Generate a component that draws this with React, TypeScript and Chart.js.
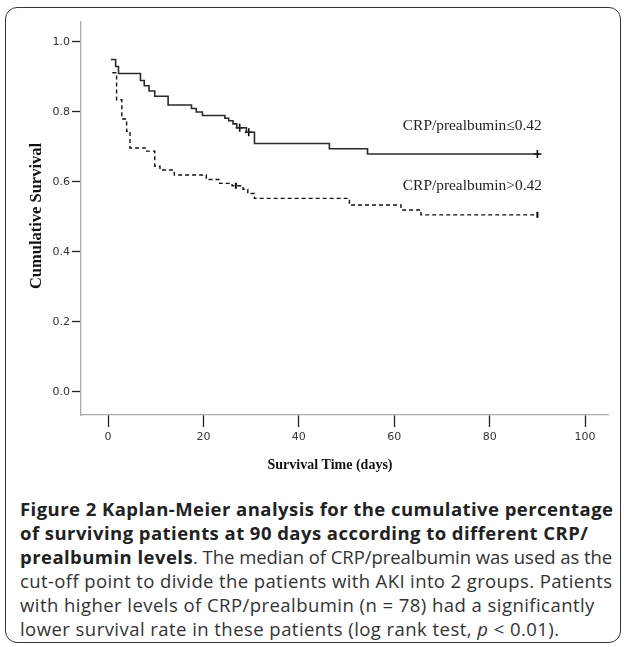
import React, { useEffect, useRef } from 'react';
import { Chart, registerables } from 'chart.js';

Chart.register(...registerables);

// Kaplan-Meier steps: group CRP/prealbumin ≤ 0.42 (solid)
const LOW_TIMES = [0.6, 1.6, 2.2, 6.8, 7.6, 8.6, 9.8, 12.6, 17.5, 18.5, 19.8, 24.5, 25.3, 26.2, 27.0, 29.0, 30.7, 46.4, 54.4, 90];
const LOW_SURV = [0.95, 0.93, 0.91, 0.89, 0.875, 0.86, 0.845, 0.82, 0.81, 0.8, 0.79, 0.782, 0.775, 0.766, 0.755, 0.742, 0.71, 0.695, 0.68, 0.68];

// group CRP/prealbumin > 0.42 (dashed)
const HIGH_TIMES = [0.9, 1.8, 2.9, 3.9, 4.6, 7.8, 9.8, 10.9, 13.9, 20.6, 23.4, 26.0, 28.3, 29.3, 30.7, 50.6, 61.4, 65.6, 90];
const HIGH_SURV = [0.912, 0.835, 0.78, 0.745, 0.697, 0.688, 0.645, 0.634, 0.62, 0.607, 0.596, 0.589, 0.579, 0.567, 0.553, 0.534, 0.52, 0.506, 0.506];

// censored observations
const LOW_CENSOR_TIMES = [27.6, 29.5, 90];
const LOW_CENSOR_SURV = [0.755, 0.742, 0.68];
const HIGH_CENSOR_TIMES = [26.8, 90];
const HIGH_CENSOR_SURV = [0.589, 0.506];

const X_TICKS = [0, 20, 40, 60, 80, 100];
const Y_TICKS = [0, 0.2, 0.4, 0.6, 0.8, 1.0];

const SERIES_LABELS = ['CRP/prealbumin≤0.42', 'CRP/prealbumin>0.42'];
const X_TITLE = 'Survival Time (days)';
const Y_TITLE = 'Cumulative Survival';

const toPoints = (xs: number[], ys: number[]) => xs.map((x, i) => ({ x, y: ys[i] }));

const annotationPlugin = {
  id: 'kmAnnotations',
  afterDraw(chart: any) {
    const { ctx, scales } = chart;
    const xs = scales.x;
    const ys = scales.y;
    ctx.save();
    ctx.fillStyle = '#111';
    // axis titles
    ctx.font = 'bold 14px "Liberation Serif", "Times New Roman", serif';
    ctx.textAlign = 'center';
    ctx.textBaseline = 'middle';
    ctx.fillText(X_TITLE, 330, 465);
    ctx.save();
    ctx.translate(37, 216);
    ctx.rotate(-Math.PI / 2);
    ctx.font = 'bold 16.5px "Liberation Serif", "Times New Roman", serif';
    ctx.fillText(Y_TITLE, 0, 0);
    ctx.restore();
    // series labels
    ctx.font = '15.4px "Liberation Serif", "Times New Roman", serif';
    ctx.textAlign = 'left';
    ctx.fillStyle = '#222';
    ctx.fillText(SERIES_LABELS[0], xs.getPixelForValue(61.8), ys.getPixelForValue(0.761));
    ctx.fillText(SERIES_LABELS[1], xs.getPixelForValue(61.8), ys.getPixelForValue(0.589));
    ctx.restore();
  },
};

function KMChart() {
  const ref = useRef<HTMLCanvasElement | null>(null);
  useEffect(() => {
    if (!ref.current) return;
    const tickFont = { family: '"DejaVu Sans", sans-serif', size: 11 };
    const chart = new Chart(ref.current, {
      type: 'scatter',
      data: {
        datasets: [
          {
            label: SERIES_LABELS[0],
            data: toPoints(LOW_TIMES, LOW_SURV),
            showLine: true,
            stepped: true,
            borderColor: '#2a2a2a',
            borderWidth: 1.6,
            pointRadius: 0,
            fill: false,
          },
          {
            label: SERIES_LABELS[1],
            data: toPoints(HIGH_TIMES, HIGH_SURV),
            showLine: true,
            stepped: true,
            borderColor: '#111',
            borderWidth: 1.4,
            borderDash: [4, 3],
            pointRadius: 0,
            fill: false,
          },
          {
            label: 'censored-low',
            data: toPoints(LOW_CENSOR_TIMES, LOW_CENSOR_SURV),
            showLine: false,
            pointStyle: 'cross',
            pointRadius: 4,
            borderColor: '#000',
            borderWidth: 1.6,
          },
          {
            label: 'censored-high',
            data: toPoints(HIGH_CENSOR_TIMES, HIGH_CENSOR_SURV),
            showLine: false,
            pointStyle: 'line',
            rotation: 90,
            pointRadius: 3,
            borderColor: '#000',
            borderWidth: 2,
          },
        ],
      } as any,
      options: {
        animation: false,
        responsive: false,
        maintainAspectRatio: false,
        events: [],
        layout: { padding: { left: 0, top: 22, right: 16, bottom: 0 } },
        plugins: { legend: { display: false }, tooltip: { enabled: false } },
        scales: {
          x: {
            type: 'linear',
            min: -5.66,
            max: 104.8,
            afterFit: (s: any) => { s.height = 75; },
            afterBuildTicks: (s: any) => { s.ticks = X_TICKS.map((v) => ({ value: v })); },
            grid: { drawOnChartArea: false, drawTicks: true, tickLength: 12, tickColor: '#222', tickWidth: 1.3 },
            border: { display: true, color: '#aaa', width: 1.3 },
            ticks: { font: tickFont, color: '#333', padding: 4, maxRotation: 0, callback: (v: any) => String(v) },
          },
          y: {
            type: 'linear',
            min: -0.066,
            max: 1.057,
            afterFit: (s: any) => { s.width = 81; },
            afterBuildTicks: (s: any) => { s.ticks = Y_TICKS.map((v) => ({ value: v })); },
            grid: { drawOnChartArea: false, drawTicks: true, tickLength: 9, tickColor: '#222', tickWidth: 1.3 },
            border: { display: true, color: '#aaa', width: 1.3 },
            ticks: { font: tickFont, color: '#333', padding: 2, callback: (v: any) => Number(v).toFixed(1) },
          },
        },
      } as any,
      plugins: [annotationPlugin],
    });
    return () => chart.destroy();
  }, []);
  return <canvas ref={ref} width={624} height={490} style={{ position: 'absolute', left: 0, top: 0, width: 624, height: 490 }} />;
}

export default function App() {
  return (
    <div style={{ position: 'absolute', left: 0, top: 0, width: 624, height: 647, background: '#fff', overflow: 'hidden' }}>
      <div
        style={{
          position: 'absolute',
          left: 5,
          top: 7,
          width: 616,
          height: 636,
          border: '1.5px solid #333',
          borderRadius: 12,
          boxSizing: 'border-box',
        }}
      />
      <KMChart />
      <div
        style={{
          position: 'absolute',
          left: 20,
          top: 497,
          fontFamily: '"Open Sans", sans-serif',
          fontSize: 18.5,
          letterSpacing: '0.45px',
          lineHeight: '24px',
          color: '#333',
          whiteSpace: 'nowrap',
        }}
      >
        <b style={{ color: '#222' }}>
          Figure 2 Kaplan-Meier analysis for the cumulative percentage
          <br />
          of surviving patients at 90 days according to different CRP/
          <br />
          prealbumin levels
        </b>
        <span style={{ letterSpacing: '-0.05px' }}>. The median of CRP/prealbumin was used as the</span>
        <br />
        <span style={{ letterSpacing: '0.38px' }}>cut-off point to divide the patients with AKI into 2 groups. Patients</span>
        <br />
        with higher levels of CRP/prealbumin (n = 78) had a significantly
        <br />
        lower survival rate in these patients (log rank test, <i>p</i> &lt; 0.01).
      </div>
    </div>
  );
}
